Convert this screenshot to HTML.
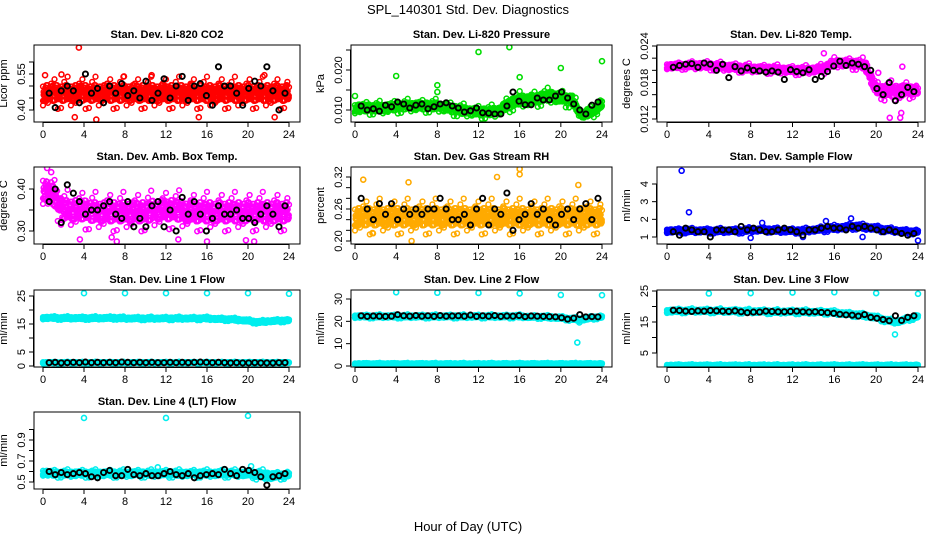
<!DOCTYPE html>
<html><head><meta charset="utf-8"><style>
html,body{margin:0;padding:0;background:#fff;}
svg{display:block;font-family:"Liberation Sans",sans-serif;}
</style></head><body>
<svg id="chart" width="936" height="540" viewBox="0 0 936 540">
<text x="468" y="14" text-anchor="middle" font-size="13">SPL_140301  Std. Dev. Diagnostics</text>
<text x="468" y="531" text-anchor="middle" font-size="13">Hour of Day (UTC)</text>
</svg>
<script>
// ---- data ----
const hours25 = [0,1,2,3,4,5,6,7,8,9,10,11,12,13,14,15,16,17,18,19,20,21,22,23,24];
const xTicks = [0,4,8,12,16,20,24];
const blackStart = 0.6, blackStep = 0.59;

const co2Black = [0.47,0.41,0.48,0.50,0.48,0.43,0.55,0.47,0.49,0.43,0.50,0.47,0.51,0.46,0.48,0.45,0.52,0.44,0.47,0.53,0.45,0.50,0.54,0.44,0.50,0.51,0.46,0.42,0.58,0.50,0.50,0.47,0.42,0.49,0.52,0.50,0.58,0.48,0.40,0.47];
const co2Center = [0.47,0.47,0.47,0.47,0.47,0.47,0.47,0.47,0.47,0.47,0.47,0.47,0.47,0.47,0.47,0.47,0.47,0.47,0.47,0.47,0.47,0.47,0.47,0.47,0.47];
const co2Spread = [0.05,0.05,0.05,0.05,0.05,0.05,0.05,0.05,0.05,0.05,0.05,0.05,0.05,0.05,0.05,0.05,0.05,0.05,0.05,0.05,0.05,0.05,0.05,0.05,0.05];
const co2OutX = [3.5,0.2,1.8,5.2,3.1,22.6,21.6,10.6,15.2,7.9];
const co2OutY = [0.66,0.545,0.548,0.36,0.37,0.37,0.545,0.545,0.37,0.54];

const presBlack = [0.0110,0.0100,0.0103,0.0097,0.0112,0.0108,0.0120,0.0115,0.0105,0.0112,0.0115,0.0103,0.0108,0.0115,0.0118,0.0110,0.0105,0.0095,0.0098,0.0105,0.0093,0.0092,0.0090,0.0090,0.0110,0.0145,0.0122,0.0113,0.0113,0.0130,0.0125,0.0125,0.0135,0.0145,0.0130,0.0115,0.0100,0.0090,0.0112,0.0120];
const presCenter = [0.0105,0.0105,0.0105,0.0105,0.0108,0.0110,0.0110,0.0110,0.0110,0.0105,0.0100,0.0097,0.0095,0.0095,0.0098,0.0115,0.0125,0.0125,0.0130,0.0135,0.0130,0.0125,0.0088,0.0095,0.0115];
const presSpread = [0.0013,0.0013,0.0013,0.0013,0.0013,0.0013,0.0013,0.0013,0.0013,0.0013,0.0013,0.0013,0.0013,0.0013,0.0013,0.0016,0.0016,0.0016,0.0016,0.0016,0.0016,0.0016,0.0011,0.0013,0.0013];
const presOutX = [0,4,8,8,12,15,16,20,24];
const presOutY = [0.0135,0.0185,0.0162,0.0145,0.0245,0.0257,0.0182,0.0205,0.0222];

const tempBlack = [0.0205,0.0208,0.0210,0.0211,0.0205,0.0212,0.0210,0.0200,0.0210,0.0188,0.0206,0.0199,0.0204,0.0200,0.0199,0.0197,0.0199,0.0197,0.0185,0.0201,0.0198,0.0196,0.0201,0.0185,0.0190,0.0198,0.0207,0.0215,0.0208,0.0212,0.0210,0.0206,0.0200,0.0170,0.0160,0.0180,0.0150,0.0160,0.0172,0.0165];
const tempCenter = [0.0207,0.0207,0.0208,0.0208,0.0208,0.0206,0.0205,0.0204,0.0203,0.0202,0.0202,0.0201,0.0200,0.0200,0.0201,0.0203,0.0212,0.0212,0.0211,0.0208,0.0168,0.0166,0.0165,0.0168,0.0166];
const tempSpread = [0.0005,0.0005,0.0005,0.0006,0.0006,0.0006,0.0006,0.0006,0.0006,0.0006,0.0006,0.0006,0.0006,0.0006,0.0006,0.0007,0.0007,0.0007,0.0008,0.0009,0.0011,0.0013,0.0014,0.0011,0.0009];
const tempOutX = [21.3,22.3,22.4,15,20.2,22.5];
const tempOutY = [0.0122,0.0122,0.0130,0.0228,0.0196,0.0206];

const ambBlack = [0.37,0.40,0.32,0.41,0.39,0.37,0.34,0.35,0.35,0.36,0.37,0.34,0.33,0.37,0.31,0.33,0.31,0.36,0.37,0.31,0.35,0.30,0.38,0.34,0.37,0.34,0.30,0.33,0.36,0.34,0.34,0.35,0.33,0.33,0.32,0.34,0.36,0.34,0.31,0.36];
const ambCenter = [0.40,0.385,0.35,0.35,0.35,0.345,0.345,0.345,0.345,0.345,0.345,0.35,0.35,0.35,0.345,0.345,0.345,0.345,0.345,0.345,0.345,0.345,0.345,0.345,0.345];
const ambSpread = [0.035,0.035,0.035,0.035,0.035,0.035,0.035,0.035,0.035,0.035,0.035,0.035,0.035,0.035,0.035,0.035,0.035,0.035,0.035,0.035,0.035,0.035,0.035,0.035,0.035];
const ambOutX = [0.4,3.6,6.7,7.2,16,19.8,20.6,13.2,0.8];
const ambOutY = [0.45,0.28,0.285,0.275,0.275,0.278,0.275,0.28,0.44];

const rhBlack = [0.28,0.26,0.24,0.27,0.25,0.27,0.24,0.26,0.25,0.26,0.25,0.26,0.26,0.28,0.26,0.24,0.24,0.25,0.23,0.26,0.28,0.23,0.26,0.25,0.29,0.22,0.24,0.25,0.27,0.25,0.26,0.24,0.23,0.25,0.26,0.24,0.26,0.27,0.24,0.28];
const rhCenter = [0.245,0.245,0.245,0.245,0.245,0.245,0.245,0.245,0.245,0.245,0.245,0.245,0.245,0.245,0.245,0.245,0.245,0.245,0.245,0.245,0.245,0.245,0.245,0.245,0.245];
const rhSpread = [0.025,0.025,0.025,0.025,0.025,0.025,0.025,0.025,0.025,0.025,0.025,0.025,0.025,0.025,0.025,0.025,0.025,0.025,0.025,0.025,0.025,0.025,0.025,0.025,0.025];
const rhOutX = [0.8,5.2,13.8,16,16,21.7,1.7,5.5];
const rhOutY = [0.315,0.31,0.32,0.325,0.335,0.305,0.215,0.2];

const sfBlack = [1.3,1.1,1.5,1.4,1.3,1.3,1.0,1.4,1.4,1.4,1.3,1.6,1.4,1.5,1.4,1.3,1.3,1.4,1.5,1.4,1.3,1.1,1.4,1.4,1.5,1.6,1.5,1.5,1.4,1.6,1.5,1.6,1.5,1.4,1.3,1.4,1.3,1.2,1.1,1.2];
const sfCenter = [1.35,1.35,1.35,1.35,1.35,1.35,1.35,1.35,1.4,1.4,1.4,1.35,1.35,1.35,1.4,1.45,1.5,1.55,1.6,1.55,1.5,1.4,1.35,1.3,1.3];
const sfSpread = [0.12,0.12,0.12,0.12,0.12,0.12,0.12,0.12,0.12,0.12,0.12,0.12,0.12,0.12,0.12,0.14,0.14,0.14,0.14,0.14,0.14,0.12,0.12,0.12,0.12];
const sfOutX = [1.4,2.1,8,13,24,18.7,17.6,15.2,9.1];
const sfOutY = [4.75,2.4,0.95,1.0,0.8,1.0,2.05,1.9,1.8];

const l1Black = [1.2,1.3,1.1,1.2,1.3,1.2,1.4,1.2,1.3,1.2,1.3,1.2,1.4,1.3,1.2,1.3,1.2,1.3,1.2,1.2,1.3,1.2,1.3,1.2,1.3,1.4,1.3,1.2,1.3,1.2,1.1,1.2,1.1,1.1,1.2,1.1,1.1,1.1,1.2,1.2];
const l1Center = [17.2,17.2,17.1,17.1,17.1,17.1,17.1,17.2,17.0,17.0,17.0,17.0,17.0,17.0,17.0,17.0,17.0,16.8,16.7,16.5,16.2,15.6,16.0,16.2,16.3];
const l1Low = [1.2,1.2,1.2,1.2,1.2,1.2,1.2,1.2,1.2,1.2,1.2,1.2,1.2,1.2,1.2,1.2,1.2,1.2,1.2,1.2,1.2,1.2,1.2,1.2,1.2];
const l1OutX = [4,8,12,16,20,24];
const l1OutY = [26,26,26,26,26,25.8];

const l2Black = [22.5,22.2,22.4,22.3,22.2,22.3,23.0,22.5,22.3,22.6,22.3,22.5,22.2,22.6,22.3,22.4,22.5,22.3,22.8,22.2,22.5,22.3,22.6,22.2,22.4,22.3,22.6,22.1,22.4,22.3,22.2,22.1,22.0,21.6,21.0,21.4,23.0,22.0,22.1,22.0];
const l2Center = [22.2,22.2,22.2,22.2,22.2,22.2,22.2,22.2,22.2,22.2,22.2,22.2,22.2,22.2,22.2,22.2,22.2,22.0,22.0,21.8,21.6,21.0,20.8,21.6,22.0];
const l2Low = [1.0,1.0,1.0,1.0,1.0,1.0,1.0,1.0,1.0,1.0,1.0,1.0,1.0,1.0,1.0,1.0,1.0,1.0,1.0,1.0,1.0,1.0,1.0,1.0,1.0];
const l2OutX = [4,8,12,16,20,24,21.6,21.8];
const l2OutY = [33,32.8,32.7,32.5,31.8,31.7,10.5,19.5];

const l3Black = [18.8,18.7,18.5,18.4,18.6,18.5,18.7,18.6,18.5,18.4,18.6,18.3,18.0,18.2,18.2,18.5,18.4,18.3,18.3,18.4,18.5,18.3,18.2,18.3,18.1,18.0,17.8,17.5,17.3,17.2,16.9,17.4,16.5,16.2,15.8,15.4,17.0,15.5,16.5,17.0];
const l3Center = [18.5,18.6,18.6,18.6,18.6,18.6,18.5,18.5,18.4,18.4,18.3,18.3,18.3,18.3,18.2,18.2,18.0,17.7,17.4,17.0,16.5,15.5,15.0,16.0,16.8];
const l3Low = [1.0,1.0,1.0,1.0,1.0,1.0,1.0,1.0,1.0,1.0,1.0,1.0,1.0,1.0,1.0,1.0,1.0,1.0,1.0,1.0,1.0,1.0,1.0,1.0,1.0];
const l3OutX = [4,8,12,16,20,24,21.8];
const l3OutY = [24.2,24.3,24.5,24.6,24.3,24.1,11];

const l4Black = [0.60,0.57,0.59,0.57,0.58,0.59,0.58,0.55,0.54,0.59,0.61,0.56,0.56,0.62,0.57,0.56,0.58,0.56,0.56,0.58,0.60,0.57,0.56,0.58,0.54,0.56,0.57,0.58,0.57,0.62,0.58,0.56,0.62,0.61,0.59,0.55,0.47,0.55,0.56,0.58];
const l4Center = [0.59,0.58,0.58,0.58,0.58,0.58,0.58,0.58,0.58,0.58,0.58,0.58,0.58,0.58,0.58,0.58,0.58,0.58,0.58,0.58,0.58,0.57,0.56,0.56,0.57];
const l4Spread = [0.03,0.03,0.03,0.03,0.03,0.03,0.03,0.03,0.03,0.03,0.03,0.03,0.03,0.03,0.03,0.03,0.03,0.03,0.03,0.03,0.03,0.04,0.04,0.03,0.03];
const l4OutX = [4,12,20,20.3,11.2];
const l4OutY = [1.11,1.11,1.13,0.65,0.64];

// ---- layout ----
const cols = [{l:34,r:300,x0:43,x24:289},{l:351,r:612,x0:355,x24:602},{l:657,r:925,x0:667,x24:918}];
const rowTops = [45,167,290,412];
const boxH = 77;
const jitter = [-0.9,0.35,-0.45,0.8,0.05,-0.7,0.55,-0.2,0.95,-0.55,0.15,0.65,-0.3,0.45,-0.85,0.25,-0.05];

const panels = [
 {name:'co2',title:'Stan. Dev. Li-820 CO2',ylab:'Licor ppm',c:0,r:0,cal:[0.40,110,0.55,74],ticks:[0.40,0.45,0.50,0.55,0.60],labels:['0.40','0.55'],labelVals:[0.40,0.55],color:'#ff0000',black:co2Black,bands:[[co2Center,co2Spread]],ox:co2OutX,oy:co2OutY},
 {name:'pressure',title:'Stan. Dev. Li-820 Pressure',ylab:'kPa',c:1,r:0,cal:[0.010,110,0.020,70],ticks:[0.010,0.015,0.020,0.025],labels:['0.010','0.020'],labelVals:[0.010,0.020],color:'#00dd00',black:presBlack,bands:[[presCenter,presSpread]],ox:presOutX,oy:presOutY},
 {name:'temp',title:'Stan. Dev. Li-820 Temp.',ylab:'degrees C',c:2,r:0,cal:[0.012,119,0.024,46],ticks:[0.012,0.014,0.016,0.018,0.020,0.022,0.024],labels:['0.012','0.018','0.024'],labelVals:[0.012,0.018,0.024],color:'#ff00ff',black:tempBlack,bands:[[tempCenter,tempSpread]],ox:tempOutX,oy:tempOutY},
 {name:'amb-box',title:'Stan. Dev. Amb. Box Temp.',ylab:'degrees C',c:0,r:1,cal:[0.30,231,0.40,189],ticks:[0.30,0.35,0.40],labels:['0.30','0.40'],labelVals:[0.30,0.40],color:'#ff00ff',black:ambBlack,bands:[[ambCenter,ambSpread]],ox:ambOutX,oy:ambOutY},
 {name:'rh',title:'Stan. Dev. Gas Stream RH',ylab:'percent',c:1,r:1,cal:[0.20,241,0.32,177],ticks:[0.20,0.22,0.24,0.26,0.28,0.30,0.32],labels:['0.20','0.26','0.32'],labelVals:[0.20,0.26,0.32],color:'#ffaa00',black:rhBlack,bands:[[rhCenter,rhSpread]],ox:rhOutX,oy:rhOutY},
 {name:'sample-flow',title:'Stan. Dev. Sample Flow',ylab:'ml/min',c:2,r:1,cal:[1,237,4,184],ticks:[1,2,3,4],labels:['1','2','3','4'],labelVals:[1,2,3,4],color:'#0000ff',black:sfBlack,bands:[[sfCenter,sfSpread]],ox:sfOutX,oy:sfOutY},
 {name:'line1-flow',title:'Stan. Dev. Line 1 Flow',ylab:'ml/min',c:0,r:2,cal:[0,366,25,296],ticks:[0,5,10,15,20,25],labels:['0','5','15','25'],labelVals:[0,5,15,25],color:'#00eeee',black:l1Black,bands:[[l1Center,l1Low.map(()=>0.5)],[l1Low,l1Low.map(()=>0.25)]],ox:l1OutX,oy:l1OutY},
 {name:'line2-flow',title:'Stan. Dev. Line 2 Flow',ylab:'ml/min',c:1,r:2,cal:[0,366,30,299],ticks:[0,10,20,30],labels:['0','10','20','30'],labelVals:[0,10,20,30],color:'#00eeee',black:l2Black,bands:[[l2Center,l2Low.map(()=>0.7)],[l2Low,l2Low.map(()=>0.3)]],ox:l2OutX,oy:l2OutY},
 {name:'line3-flow',title:'Stan. Dev. Line 3 Flow',ylab:'ml/min',c:2,r:2,cal:[5,353,25,291],ticks:[5,10,15,20,25],labels:['5','15','25'],labelVals:[5,15,25],color:'#00eeee',black:l3Black,bands:[[l3Center,l3Low.map(()=>0.6)],[l3Low,l3Low.map(()=>0.3)]],ox:l3OutX,oy:l3OutY},
 {name:'line4-flow',title:'Stan. Dev. Line 4 (LT) Flow',ylab:'ml/min',c:0,r:3,cal:[0.5,482,0.9,440],ticks:[0.5,0.6,0.7,0.8,0.9,1.0],labels:['0.5','0.7','0.9'],labelVals:[0.5,0.7,0.9],color:'#00eeee',black:l4Black,bands:[[l4Center,l4Spread]],ox:l4OutX,oy:l4OutY}
];

const NS='http://www.w3.org/2000/svg';
const svg=document.getElementById('chart');
function mk(tag,attrs,parent){const e=document.createElementNS(NS,tag);for(const k in attrs)e.setAttribute(k,attrs[k]);parent.appendChild(e);return e;}
function interp(arr,t){const i=Math.min(23,Math.floor(t));const f=t-i;return arr[i]*(1-f)+arr[i+1]*f;}

panels.forEach(p=>{
  const col=cols[p.c], top=rowTops[p.r], bot=top+boxH;
  const xs=h=>col.x0+h*(col.x24-col.x0)/24;
  const ys=v=>p.cal[1]+(v-p.cal[0])*(p.cal[3]-p.cal[1])/(p.cal[2]-p.cal[0]);
  const g=mk('g',{},svg);
  
  
  const clip=mk('clipPath',{id:'clip-'+p.name},g);
  mk('rect',{x:col.l,y:top,width:col.r-col.l,height:boxH},clip);
  const pts=mk('g',{'clip-path':'url(#clip-'+p.name+')',fill:'none','stroke-width':1.5},g);
  
  
  // colored bands: dense core + sparse fringe
  const passes=[[0.055,0.7,0],[0.055,0.7,3],[0.16,1.45,5]];
  p.bands.forEach(b=>{
    passes.forEach(ps=>{
      let k=0;
      for(let t=0;t<=24.001;t+=ps[0]){
        const j=jitter[(k*7+ps[2])%jitter.length];
        const v=interp(b[0],t)+b[1][Math.min(24,Math.round(t))]*j*ps[1];
        mk('circle',{cx:xs(t).toFixed(1),cy:ys(v).toFixed(1),r:2.4,stroke:p.color},pts);
        k++;
      }
    });
  });
  // outliers
  p.ox.forEach((x,i)=>{
    const c=mk('circle',{cx:xs(x),cy:ys(p.oy[i]),r:2.5,stroke:p.color,'stroke-width':1.6},pts);
    
    
  });
  // black points
  p.black.forEach((v,i)=>{
    const c=mk('circle',{cx:xs(blackStart+i*blackStep),cy:ys(v),r:2.6,stroke:'#000','stroke-width':1.9},pts);
    
    
  });
  // box
  const box=mk('rect',{x:col.l,y:top,width:col.r-col.l,height:boxH,fill:'none',stroke:'#000','stroke-width':1},g);
  
  
  // title
  const tt=mk('text',{x:(col.l+col.r)/2,y:top-7,'text-anchor':'middle','font-size':11,'font-weight':'bold'},g);
  tt.textContent=p.title;
  
  
  // x axis
  const xa=mk('g',{stroke:'#000','stroke-width':1},g);
  
  
  mk('line',{x1:xs(0),x2:xs(24),y1:bot+0.5,y2:bot+0.5},xa);
  xTicks.forEach(h=>{
    mk('line',{x1:xs(h),x2:xs(h),y1:bot,y2:bot+5},xa);
    const lt=mk('text',{x:xs(h),y:bot+16,'text-anchor':'middle','font-size':11,stroke:'none',fill:'#000'},xa);
    lt.textContent=String(h);
  });
  // y axis
  const ya=mk('g',{stroke:'#000','stroke-width':1},g);
  
  
  mk('line',{x1:col.l-0.5,x2:col.l-0.5,y1:ys(p.ticks[0]),y2:ys(p.ticks[p.ticks.length-1])},ya);
  p.ticks.forEach(v=>{mk('line',{x1:col.l-5,x2:col.l,y1:ys(v),y2:ys(v)},ya);});
  p.labelVals.forEach((v,i)=>{
    const lx=col.l-9, ly=ys(v);
    const lt=mk('text',{x:lx,y:ly,'text-anchor':'middle','font-size':11,stroke:'none',fill:'#000',transform:'rotate(-90 '+lx+' '+ly+')'},ya);
    lt.textContent=p.labels[i];
  });
  const yl=col.l-27, ym=top+boxH/2;
  const ylab=mk('text',{x:yl,y:ym,'text-anchor':'middle','font-size':11,transform:'rotate(-90 '+yl+' '+ym+')'},g);
  ylab.textContent=p.ylab;
  
  
});
</script>
</body></html>
